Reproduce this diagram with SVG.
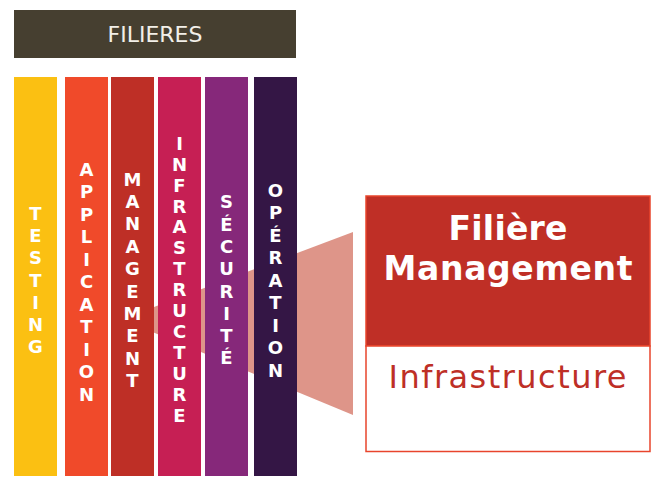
<svg xmlns="http://www.w3.org/2000/svg" width="657" height="477" viewBox="0 0 657 477">
<style>
.col text{font-family:"DejaVu Sans",Verdana,sans-serif;font-weight:bold;font-size:18px;fill:#ffffff;text-anchor:middle}
.hdr{font-family:"DejaVu Sans",Verdana,sans-serif;font-size:22px;fill:#f2efe8;text-anchor:middle}
.big{font-family:"DejaVu Sans",Verdana,sans-serif;font-weight:bold;font-size:33px;fill:#ffffff;text-anchor:middle}
.sub{font-family:"DejaVu Sans",Verdana,sans-serif;font-size:32px;fill:#be2f26;text-anchor:middle}
</style>
<rect width="657" height="477" fill="#ffffff"/>
<g id="connectors">
<polygon points="353,232 353,415 150,331 150,308.5" fill="#de9589"/>
</g>
<g id="header">
<rect x="14" y="10" width="282" height="48" fill="#463f30"/>
<text class="hdr" x="155" y="42">FILIERES</text>
</g>
<g id="testing" class="col">
<rect x="14" y="77" width="43" height="399" fill="#fbc012"/>
<text x="35.5" y="220"><tspan x="35.5">T</tspan><tspan x="35.5" dy="22.2">E</tspan><tspan x="35.5" dy="22.2">S</tspan><tspan x="35.5" dy="22.2">T</tspan><tspan x="35.5" dy="22.2">I</tspan><tspan x="35.5" dy="22.2">N</tspan><tspan x="35.5" dy="22.2">G</tspan></text>
</g>
<g id="application" class="col">
<rect x="65" y="77" width="43" height="399" fill="#f04a2a"/>
<text x="86.5" y="175.5"><tspan x="86.5">A</tspan><tspan x="86.5" dy="22.5">P</tspan><tspan x="86.5" dy="22.5">P</tspan><tspan x="86.5" dy="22.5">L</tspan><tspan x="86.5" dy="22.5">I</tspan><tspan x="86.5" dy="22.5">C</tspan><tspan x="86.5" dy="22.5">A</tspan><tspan x="86.5" dy="22.5">T</tspan><tspan x="86.5" dy="22.5">I</tspan><tspan x="86.5" dy="22.5">O</tspan><tspan x="86.5" dy="22.5">N</tspan></text>
</g>
<g id="management" class="col">
<rect x="111" y="77" width="43" height="399" fill="#be2f26"/>
<text x="132.5" y="185.5"><tspan x="132.5">M</tspan><tspan x="132.5" dy="22.4">A</tspan><tspan x="132.5" dy="22.4">N</tspan><tspan x="132.5" dy="22.4">A</tspan><tspan x="132.5" dy="22.4">G</tspan><tspan x="132.5" dy="22.4">E</tspan><tspan x="132.5" dy="22.4">M</tspan><tspan x="132.5" dy="22.4">E</tspan><tspan x="132.5" dy="22.4">N</tspan><tspan x="132.5" dy="22.4">T</tspan></text>
</g>
<g id="infrastructure" class="col">
<rect x="158" y="77" width="43" height="399" fill="#c61f54"/>
<text x="179.5" y="149.8"><tspan x="179.5">I</tspan><tspan x="179.5" dy="20.9">N</tspan><tspan x="179.5" dy="20.9">F</tspan><tspan x="179.5" dy="20.9">R</tspan><tspan x="179.5" dy="20.9">A</tspan><tspan x="179.5" dy="20.9">S</tspan><tspan x="179.5" dy="20.9">T</tspan><tspan x="179.5" dy="20.9">R</tspan><tspan x="179.5" dy="20.9">U</tspan><tspan x="179.5" dy="20.9">C</tspan><tspan x="179.5" dy="20.9">T</tspan><tspan x="179.5" dy="20.9">U</tspan><tspan x="179.5" dy="20.9">R</tspan><tspan x="179.5" dy="20.9">E</tspan></text>
</g>
<g id="securite" class="col">
<rect x="205" y="77" width="43" height="399" fill="#86287a"/>
<text x="226.5" y="208.3"><tspan x="226.5">S</tspan><tspan x="226.5" dy="22.3">É</tspan><tspan x="226.5" dy="22.3">C</tspan><tspan x="226.5" dy="22.3">U</tspan><tspan x="226.5" dy="22.3">R</tspan><tspan x="226.5" dy="22.3">I</tspan><tspan x="226.5" dy="22.3">T</tspan><tspan x="226.5" dy="22.3">É</tspan></text>
</g>
<g id="operation" class="col">
<rect x="254" y="77" width="43" height="399" fill="#341645"/>
<text x="275.5" y="196.6"><tspan x="275.5">O</tspan><tspan x="275.5" dy="22.5">P</tspan><tspan x="275.5" dy="22.5">É</tspan><tspan x="275.5" dy="22.5">R</tspan><tspan x="275.5" dy="22.5">A</tspan><tspan x="275.5" dy="22.5">T</tspan><tspan x="275.5" dy="22.5">I</tspan><tspan x="275.5" dy="22.5">O</tspan><tspan x="275.5" dy="22.5">N</tspan></text>
</g>
<g id="detail">
<rect x="366" y="196" width="284" height="150" fill="#bf2f26" stroke="#e8452c" stroke-width="1.5"/>
<rect x="366" y="346" width="284" height="105.5" fill="#ffffff" stroke="#e8452c" stroke-width="1.5"/>
<text class="big" x="508" y="240" textLength="119" lengthAdjust="spacing">Filière</text>
<text class="big" x="508" y="280" textLength="249" lengthAdjust="spacing">Management</text>
<text class="sub" x="507.5" y="388.3" textLength="238" lengthAdjust="spacing">Infrastructure</text>
</g>
</svg>
